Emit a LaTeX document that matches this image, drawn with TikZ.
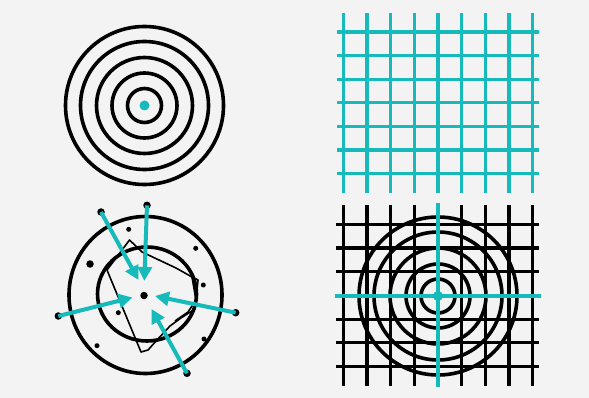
\documentclass[tikz,border=0pt]{standalone}
\usetikzlibrary{arrows.meta}
\definecolor{bgc}{RGB}{243,243,243}
\definecolor{teal1}{RGB}{22,186,186}
\tikzset{
  ring/.style={draw=black,line width=3.6pt},
  gridblack/.style={draw=black,line width=3.2pt},
  gridteal/.style={draw=teal1,line width=3.2pt},
  bigdot/.style={circle,fill=black,inner sep=0pt,minimum size=7.5pt},
  smalldot/.style={circle,fill=black,inner sep=0pt,minimum size=5pt},
  tealdot/.style={circle,fill=teal1,inner sep=0pt,minimum size=10pt},
  pointer/.style={draw=teal1,line width=4pt,-{Triangle[length=14pt,width=14pt]}},
  outline/.style={draw=black,line width=1.6pt,line join=round}
}
\begin{document}
\begin{tikzpicture}[x=1pt,y=-1pt]
\fill[bgc] (0,0) rectangle (589,398);
\useasboundingbox (0,0) rectangle (589,398);

% top-left: concentric rings
\foreach \r in {17,32.5,48,64,79}{
  \draw[ring] (144.5,105.5) circle[radius=\r];
}
\node[tealdot] (tlc) at (144.5,105.5) {};

% top-right: teal grid
\foreach \i in {0,...,8}{
  \draw[gridteal] (343.3+23.67*\i,13) -- (343.3+23.67*\i,193);
}
\foreach \j in {0,...,6}{
  \draw[gridteal] (337,32+23.6*\j) -- (539,32+23.6*\j);
}

% bottom-right: black grid, rings, teal cross
\foreach \i in {0,1,2,3,5,6,7,8}{
  \draw[gridblack] (343.3+23.67*\i,205) -- (343.3+23.67*\i,386);
}
\foreach \j in {0,1,2,4,5,6}{
  \draw[gridblack] (336,224.3+23.7*\j) -- (539,224.3+23.7*\j);
}
\foreach \r in {17,32,48,64,79}{
  \draw[ring] (438,296) circle[radius=\r];
}
\draw[gridteal] (438,203) -- (438,387);
\draw[gridteal] (335,296) -- (541,296);
\node[tealdot,minimum size=10pt] (brc) at (438,296) {};

% bottom-left: scattered estimate
\draw[ring] (145.5,295) circle[x radius=76.5,y radius=78.5];
\draw[ring] (147,294) circle[x radius=49.5,y radius=47];
\draw[outline] (129.5,240) -- (142,252) -- (176,268) -- (192,277) -- (198,280)
  -- (197,290) -- (195,309) -- (181,318) -- (170,326) -- (157,340) -- (148,350)
  -- (141,352) -- (107,270) -- cycle;
\draw[outline] (192,277) -- (196,300) -- (188,312) -- (175,321);

\node[smalldot] (s1) at (128.7,229.3) {};
\node[smalldot] (s2) at (195.7,248.3) {};
\node[bigdot]   (s3) at (90,264) {};
\node[smalldot] (s4) at (203.3,285) {};
\node[smalldot] (s5) at (118.3,312.7) {};
\node[smalldot] (s6) at (97,345.7) {};
\node[smalldot] (s7) at (204,339) {};
\node[bigdot]   (ctr) at (144,295.5) {};

\node[bigdot] (d1) at (101,212) {};
\node[bigdot] (d2) at (147,205.3) {};
\node[bigdot] (d3) at (58.3,316) {};
\node[bigdot] (d4) at (235.7,312.7) {};
\node[bigdot] (d5) at (187,373.3) {};

\coordinate (t1) at (138.5,280);
\coordinate (t2) at (144.3,281);
\coordinate (t3) at (132.5,297.5);
\coordinate (t4) at (155,296);
\coordinate (t5) at (151.5,309);

\draw[pointer] (d1.center) -- (t1);
\draw[pointer] (d2.center) -- (t2);
\draw[pointer] (d3.center) -- (t3);
\draw[pointer] (d4.center) -- (t4);
\draw[pointer] (d5.center) -- (t5);
\end{tikzpicture}
\end{document}
